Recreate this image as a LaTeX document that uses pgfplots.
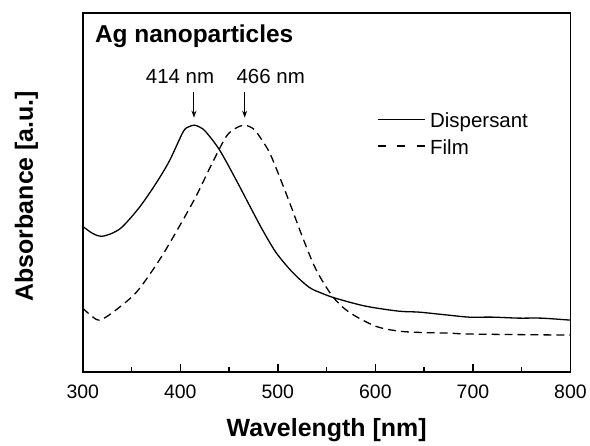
\documentclass[border=0pt]{standalone}
\usepackage{fontspec}
\setmainfont{Liberation Sans}
\usepackage{pgfplots}
\pgfplotsset{compat=1.18}
\usetikzlibrary{arrows.meta}

% UV-vis spectra, y in arbitrary units
\pgfplotstableread{
x y
300 146
310 139
319 136
331 139.5
341 146
358 165
375 189
389 212
403 241
409 246
414.5 247.5
420 245.5
426 241
440 223
457 193
472 165
484 143
498 120
515 100
532 85
545 79
559 74
590 66
624 61
645 60
675 57
696 55
720 55
747 54
770 54
800 52
}\dispersant

\pgfplotstableread{
x y
300 64
308 57
317 52
331 60
355 80
379 113
399 146
416 176
433 210
447 236
456 244
466 247.5
476 243
484 232
491 221
498 205
512 170
525 136
539 103
556 76
573 60
600 46
624 41
650 39.5
675 39
700 38
800 37
}\film

\begin{document}
\begin{tikzpicture}
\begin{axis}[
    scale only axis,
    width=489pt, height=360pt,
    xmin=300, xmax=800, ymin=0, ymax=360,
    axis line style={line width=1.8pt},
    xtick={300,400,...,800},
    minor x tick num=1,
    ytick=\empty,
    xtick pos=bottom,
    tick align=inside,
    major tick length=8pt, minor tick length=5pt,
    every tick/.style={black, line width=1.5pt},
    /pgf/number format/assume math mode=true,
    /pgf/number format/1000 sep={},
    xticklabel style={font=\fontsize{19.5}{20}\selectfont, yshift=-9pt},
    xlabel={Wavelength [nm]},
    ylabel={Absorbance [a.u.]},
    xlabel style={font=\fontsize{25}{26}\selectfont\bfseries,
        at={(axis description cs:0.5,-0.1806)}, anchor=base},
    ylabel style={font=\fontsize{25}{26}\selectfont\bfseries,
        at={(axis description cs:-0.1022,0.49)}, anchor=base},
    legend style={draw=none, fill=none, inner sep=0pt,
        at={(axis description cs:0.603,0.664)}, anchor=west,
        font=\fontsize{20.5}{22}\selectfont,
        nodes={inner sep=0pt, text depth=0pt},
        row sep=12pt,
        /tikz/every odd column/.append style={column sep=5pt}},
    legend cell align=left,
    legend image code/.code={\draw[#1] (0pt,1pt) -- (47pt,1pt);},
]
\addplot[black, line width=1.3pt, smooth, tension=0.5] table {\dispersant};
\addplot[black, line width=1.3pt, smooth, tension=0.5,
    dash pattern=on 8pt off 5pt,
    legend image post style={dash pattern=on 8pt off 11.5pt}] table {\film};
\legend{Dispersant, Film}

\node[anchor=base west, font=\fontsize{24.5}{26}\selectfont\bfseries]
    at (axis cs:309,330) {Ag nanoparticles};
\node[anchor=base, font=\fontsize{20.5}{22}\selectfont]
    at (axis cs:399.7,289) {414 nm};
\node[anchor=base, font=\fontsize{20.5}{22}\selectfont]
    at (axis cs:492.7,289) {466 nm};
\draw[line width=1pt, -{Stealth[length=7pt,width=5pt]}]
    (axis cs:414,281) -- (axis cs:414,255);
\draw[line width=1pt, -{Stealth[length=7pt,width=5pt]}]
    (axis cs:466,281) -- (axis cs:466,255);
\end{axis}
\path (current axis.south west) ++(-83pt,-70pt) rectangle ++(590pt,443pt);
\end{tikzpicture}
\end{document}
